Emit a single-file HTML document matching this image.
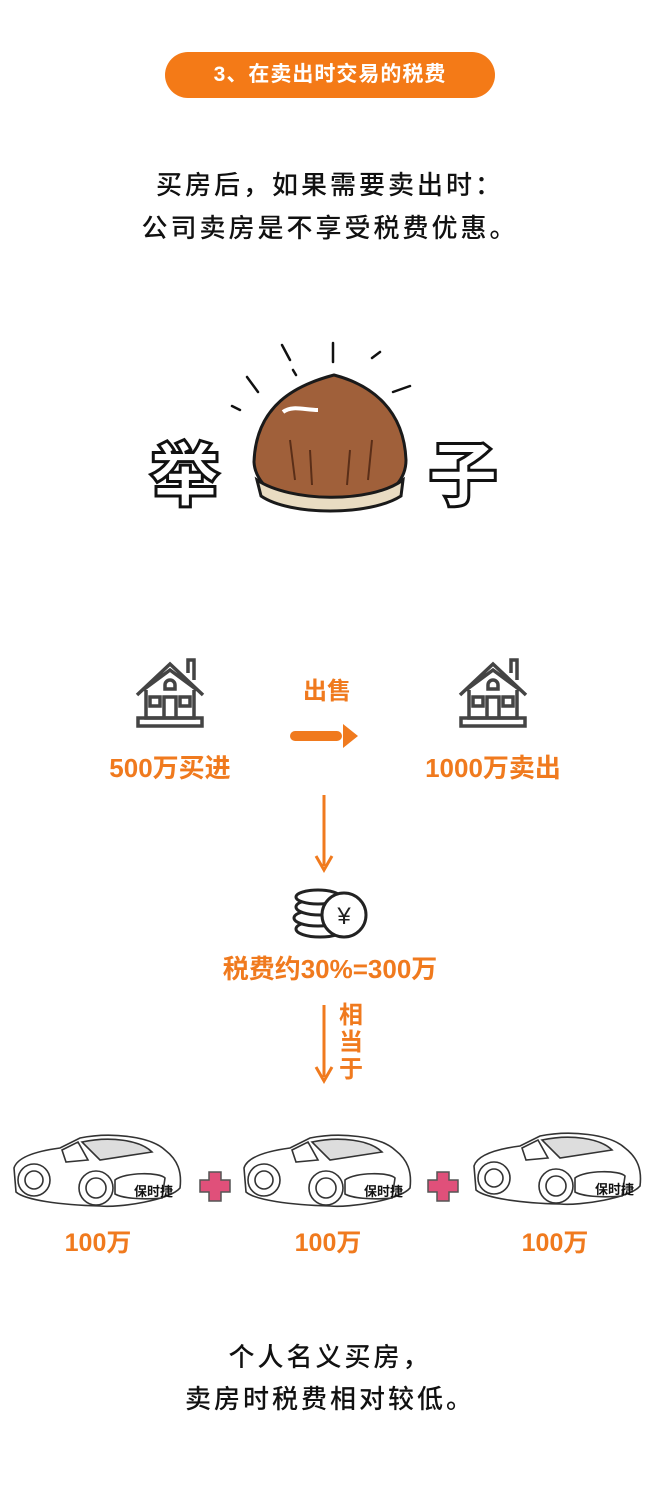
<!DOCTYPE html>
<html><head><meta charset="utf-8"><style>
body{margin:0;background:#fff;}
#c{position:relative;width:660px;height:1495px;overflow:hidden;background:#fff;font-family:"Liberation Sans","Noto Sans CJK SC",sans-serif;}
.a{position:absolute;}
.t{position:absolute;left:0;width:660px;text-align:center;color:#111;font-size:26px;letter-spacing:3px;font-weight:500;}
.o{position:absolute;color:#f07a1e;font-weight:bold;font-size:26px;text-align:center;}
</style></head><body><div id="c">
<div class="a" style="left:165px;top:52px;width:330px;height:46px;border-radius:23px;background:#f47a17;color:#fff;font-weight:bold;font-size:21px;line-height:46px;text-align:center;letter-spacing:1px;">3、在卖出时交易的税费</div>
<div class="t" style="top:165px;">买房后，如果需要卖出时：</div>
<div class="t" style="top:208px;">公司卖房是不享受税费优惠。</div>

<svg class="a" style="left:0;top:0" width="660" height="1495">
<g stroke="#111" stroke-width="2.5" fill="none" stroke-linecap="round">
<line x1="333" y1="343" x2="333" y2="362"/><line x1="282" y1="345" x2="290" y2="360"/><line x1="293" y1="370" x2="296" y2="375"/>
<line x1="247" y1="377" x2="258" y2="392"/><line x1="232" y1="406" x2="240" y2="410"/><line x1="372" y1="358" x2="380" y2="352"/>
<line x1="393" y1="392" x2="410" y2="386"/>
</g>
<path d="M334 375 C296 385 256 405 254 462 C255 480 270 494 290 502 L372 502 C392 492 406 480 406 460 C404 410 372 385 334 375 Z" fill="#a0603a" stroke="#1a1a1a" stroke-width="3"/>
<path d="M257 480 C290 502 370 504 403 480 L401 496 C370 516 290 516 261 496 Z" fill="#e9dcc2" stroke="#1a1a1a" stroke-width="3"/>
<path d="M283 412 C292 405 305 410 318 410" stroke="#fff" stroke-width="4" fill="none"/>
<g stroke="#5a2e18" stroke-width="2" fill="none"><path d="M290 440 L295 480"/><path d="M310 450 L312 485"/><path d="M350 450 L347 485"/><path d="M372 440 L368 480"/></g>
<line x1="324" y1="795" x2="324" y2="866" stroke="#f07a1e" stroke-width="3"/>
<path d="M316 856 L324 870 L332 856" stroke="#f07a1e" stroke-width="3" fill="none"/>
<line x1="324" y1="1005" x2="324" y2="1077" stroke="#f07a1e" stroke-width="3"/>
<path d="M316 1067 L324 1081 L332 1067" stroke="#f07a1e" stroke-width="3" fill="none"/>
<g fill="#f07a1e"><rect x="290" y="731" width="52" height="10" rx="5"/><path d="M343 724 L358 736 L343 748 Z"/></g>
<g id="h" fill="none" stroke="#444" stroke-width="3.5">
<path d="M137 695 L170 664 L203 695 M143 690 L170 670 L197 690"/>
<path d="M188 673 V660 H194 V680"/>
<path d="M146 690 V718 H194 V690"/>
<rect x="138" y="718" width="64" height="8"/>
<rect x="150" y="697" width="10" height="9"/><rect x="180" y="697" width="10" height="9"/>
<path d="M164 718 V697 H176 V718"/><path d="M165 685 a5 5 0 0 1 10 0 v4 h-10z"/>
</g>
<use href="#h" x="323" y="0"/>
<g stroke="#222" stroke-width="3" fill="#fff">
<ellipse cx="320" cy="929" rx="24" ry="8"/><ellipse cx="318" cy="918" rx="24" ry="8"/><ellipse cx="320" cy="907" rx="24" ry="8"/><ellipse cx="318" cy="897" rx="22" ry="7"/>
<circle cx="344" cy="915" r="22"/>
</g>
<text x="344" y="924" font-size="24" text-anchor="middle" fill="#222" font-family="Liberation Sans,sans-serif">¥</text>
<g id="car" stroke="#333" stroke-width="1.6" fill="#fff">
<path d="M14 1168 C18 1155 45 1150 60 1148 L80 1138 C110 1132 150 1136 165 1150 C178 1160 182 1172 180 1188 C170 1200 120 1208 100 1206 C60 1205 25 1200 16 1192 Z"/>
<path d="M82 1142 C110 1136 140 1140 152 1152 L100 1160 Z" fill="#ddd"/>
<path d="M62 1150 L78 1142 L88 1160 L66 1162 Z"/>
<circle cx="34" cy="1180" r="16"/><circle cx="34" cy="1180" r="9"/>
<circle cx="96" cy="1188" r="17"/><circle cx="96" cy="1188" r="10"/>
<path d="M115 1180 C125 1172 160 1172 165 1178 L162 1198 C140 1200 122 1198 115 1194 Z"/>
</g>
<use href="#car" x="230" y="0"/>
<use href="#car" x="460" y="-2"/>
<g fill="#e0507a" stroke="#555" stroke-width="1.5">
<path d="M209 1172 h12 v8 h9 v12 h-9 v9 h-12 v-9 h-9 v-12 h9 z"/>
<path d="M437 1172 h12 v8 h9 v12 h-9 v9 h-12 v-9 h-9 v-12 h9 z"/>
</g>
</svg>
<div class="a" style="left:150px;top:420px;font-size:70px;font-weight:900;color:#fff;-webkit-text-stroke:3px #111;">举</div>
<div class="a" style="left:428px;top:420px;font-size:70px;font-weight:900;color:#fff;-webkit-text-stroke:3px #111;">子</div>
<div class="o" style="left:277px;top:671px;width:100px;font-size:24px;">出售</div>
<div class="o" style="left:70px;top:748px;width:200px;">500万买进</div>
<div class="o" style="left:393px;top:748px;width:200px;">1000万卖出</div>
<div class="o" style="left:130px;top:949px;width:400px;">税费约30%=300万</div>
<div class="o" style="left:336px;top:1002px;width:30px;line-height:27px;font-size:24px;">相<br>当<br>于</div>
<div class="a" style="left:134px;top:1181px;font-size:13px;font-weight:bold;color:#111;">保时捷</div>
<div class="a" style="left:364px;top:1181px;font-size:13px;font-weight:bold;color:#111;">保时捷</div>
<div class="a" style="left:595px;top:1179px;font-size:13px;font-weight:bold;color:#111;">保时捷</div>
<div class="o" style="left:38px;top:1223px;width:120px;font-size:25px;">100万</div>
<div class="o" style="left:268px;top:1223px;width:120px;font-size:25px;">100万</div>
<div class="o" style="left:495px;top:1223px;width:120px;font-size:25px;">100万</div>
<div class="t" style="top:1337px;">个人名义买房，</div>
<div class="t" style="top:1379px;">卖房时税费相对较低。</div>
</div></body></html>
